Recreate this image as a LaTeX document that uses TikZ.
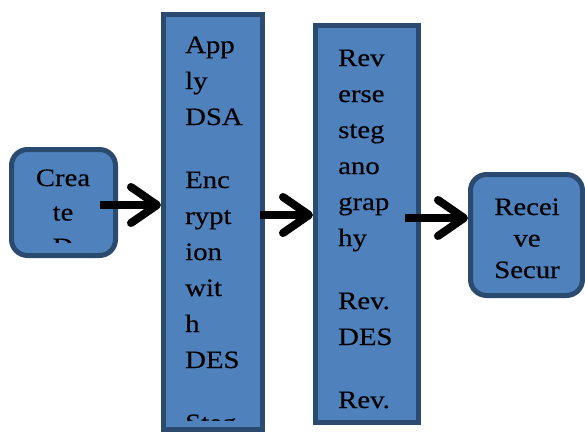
\documentclass[tikz,border=0pt]{standalone}
\usepackage{fontspec}
\setmainfont[FakeStretch=1.15,FakeBold=0.4]{Liberation Serif}
\usetikzlibrary{arrows.meta,calc}
\definecolor{boxfill}{HTML}{4F81BD}
\definecolor{boxline}{HTML}{2B4A6F}
\tikzset{
	stage/.style={draw=boxline,fill=boxfill,line width=5pt,inner sep=0pt},
	roundstage/.style={stage,rounded corners=16pt},
	words/.style={font=\fontsize{25}{36}\selectfont,inner sep=0pt,anchor=base west,align=left},
	cwords/.style={words,anchor=base,align=center},
	arr/.style={line width=8pt,-{Straight Barb[length=26pt,width=36pt,round]}}
}
\begin{document}
\begin{tikzpicture}[x=1pt,y=-1pt]
			\useasboundingbox (0,0) rectangle (585,433);
			\node[roundstage,minimum width=104pt,minimum height=106pt] (create) at (63.5,202.5) {};
			\node[stage,minimum width=99pt,minimum height=415pt] (apply) at (213,222) {};
			\node[stage,minimum width=103pt,minimum height=397pt] (reverse) at (367,224) {};
			\node[roundstage,minimum width=112pt,minimum height=121pt] (receive) at (526.5,235) {};
			% texts, cut off at the box bottoms (anchored on the last line)
			\begin{scope}
				\clip (create.north west) rectangle ([yshift=16pt]create.south east);
				\node[cwords,font=\fontsize{25}{34.5}\selectfont] (createtxt) at (63,255) {Crea\\te\\D};
			\end{scope}
			\begin{scope}
				\clip (apply.north west) rectangle ([yshift=12pt]apply.south east);
				\node[words] (applytxt) at (185,431) {App\\ly\\DSA\\[27pt]Enc\\rypt\\ion\\wit\\h\\DES\\[27pt]Steg};
			\end{scope}
			\begin{scope}
				\clip (reverse.north west) rectangle ([yshift=5pt]reverse.south east);
				\node[words] (reversetxt) at (338,408) {Rev\\erse\\steg\\ano\\grap\\hy\\[27pt]Rev.\\DES\\[27pt]Rev.};
			\end{scope}
			\node[cwords,font=\fontsize{25}{31.5}\selectfont] (receivetxt) at (527,278) {Recei\\ve\\Secur};
			\path
			(100,205) coordinate (t1)
			(260,215) coordinate (t2)
			(405,218) coordinate (t3)
			;
			\draw[arr] (t1) -- (apply.west |- t1);
			\draw[arr] (t2) -- (reverse.west |- t2);
			\draw[arr] (t3) -- (receive.west |- t3);
		\end{tikzpicture}
\end{document}
